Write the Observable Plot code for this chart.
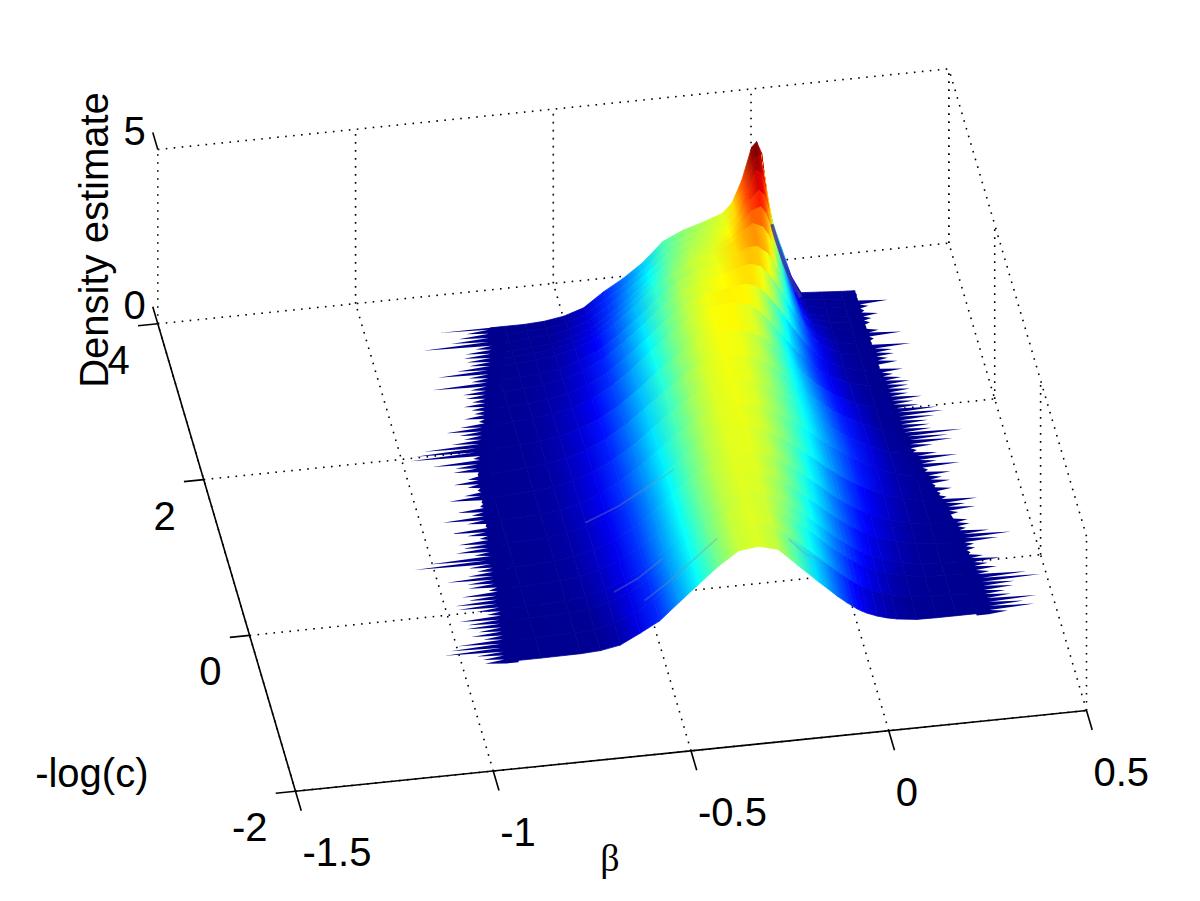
<!DOCTYPE html>
<html>
<head>
<meta charset="utf-8">
<style>html,body{margin:0;padding:0;background:#fff}svg{display:block}</style>
<script src="https://cdn.jsdelivr.net/npm/d3@7"></script>
<script src="https://cdn.jsdelivr.net/npm/@observablehq/plot@0.6"></script>
</head>
<body>
<div id="chart"></div>
<script>
// Tick values
const betaTicks = [-1.5, -1, -0.5, 0, 0.5];
const betaTickLabels = ["-1.5", "-1", "-0.5", "0", "0.5"];
const logCTicks = [-2, 0, 2, 4];
const densityTicks = [0, 5];

// Values of beta at which each profile was read
const betaGrid = [-0.95,-0.8,-0.7,-0.65,-0.6,-0.55,-0.5,-0.45,-0.4,-0.35,-0.3,-0.25,-0.2,-0.15,-0.1,-0.075,-0.05,-0.025,-0.0125,0,0.0125,0.025,0.05,0.075,0.1,0.15,0.2,0.25,0.3,0.35];

// -log(c) of each profile (front to back), and the beta range the solid surface spans there
const logCRows = [-0.66,-0.4,-0.15,0,0.25,0.5,0.8,1.1,1.4,1.7,2,2.3,2.5,2.7,2.85,3.03,3.12,3.2,3.32,3.42,3.52];
const rowBetaMin = [-0.887,-0.875,-0.866,-0.86,-0.855,-0.85,-0.843,-0.835,-0.828,-0.82,-0.795,-0.77,-0.755,-0.74,-0.727,-0.71,-0.702,-0.695,-0.69,-0.688,-0.685];
const rowBetaMax = [0.33,0.33,0.328,0.325,0.32,0.315,0.297,0.28,0.262,0.245,0.242,0.24,0.239,0.238,0.237,0.236,0.235,0.235,0.235,0.235,0.235];

// Density profiles
const densityA = [0,0,0.01,0.04,0.14,0.42,0.72,1.2,1.67,2.13,2.5,2.57,2.42,1.9,1.39,1.15,0.9,0.68,0.58,0.48,0.4,0.33,0.22,0.14,0.08,0.01,0,0,0,0];
const densityB = [0,0,0.02,0.05,0.18,0.42,0.72,1.2,1.68,2.15,2.52,2.63,2.52,2.1,1.62,1.38,1.14,0.91,0.8,0.7,0.6,0.52,0.38,0.28,0.19,0.08,0.03,0.01,0,0];
const densityB2 = [0,0,0.03,0.08,0.22,0.44,0.74,1.19,1.67,2.13,2.47,2.6,2.53,2.2,1.76,1.52,1.27,1.04,0.93,0.83,0.73,0.64,0.48,0.36,0.25,0.12,0.04,0.01,0,0];
const densityC = [0,0,0.05,0.12,0.25,0.46,0.77,1.2,1.67,2.12,2.45,2.6,2.55,2.28,1.86,1.62,1.38,1.15,1.03,0.94,0.83,0.74,0.56,0.43,0.31,0.16,0.06,0.02,0,0];
const densityC2 = [0,0.01,0.06,0.13,0.27,0.47,0.78,1.2,1.68,2.14,2.47,2.63,2.6,2.35,1.96,1.73,1.5,1.27,1.16,1.05,0.95,0.85,0.67,0.52,0.39,0.21,0.09,0.03,0.01,0];
const densityD = [0,0.01,0.07,0.14,0.28,0.48,0.79,1.18,1.65,2.09,2.44,2.61,2.62,2.44,2.07,1.86,1.63,1.41,1.3,1.17,1.07,0.97,0.78,0.62,0.47,0.26,0.12,0.05,0.02,0];
const densityD2 = [0,0.02,0.08,0.15,0.28,0.49,0.78,1.16,1.61,2.05,2.41,2.63,2.66,2.52,2.18,1.98,1.76,1.55,1.44,1.32,1.21,1.11,0.91,0.74,0.58,0.33,0.15,0.05,0.02,0];
const densityE = [0,0.02,0.08,0.15,0.28,0.49,0.78,1.15,1.58,2.01,2.37,2.6,2.67,2.57,2.28,2.1,1.9,1.7,1.58,1.47,1.35,1.25,1.05,0.87,0.69,0.4,0.18,0.06,0.02,0];
const densityE2 = [0,0.01,0.07,0.13,0.25,0.44,0.72,1.07,1.5,1.94,2.33,2.6,2.7,2.62,2.32,2.14,1.94,1.72,1.6,1.49,1.37,1.26,1.04,0.85,0.67,0.38,0.14,0.04,0.01,0];
const densityF = [0,0.01,0.06,0.12,0.23,0.4,0.66,1,1.43,1.86,2.26,2.56,2.7,2.65,2.4,2.2,1.98,1.74,1.6,1.49,1.36,1.25,1.02,0.8,0.63,0.34,0.1,0.03,0,0];
const densityF2 = [0,0.01,0.05,0.1,0.19,0.33,0.56,0.88,1.3,1.76,2.18,2.52,2.72,2.72,2.52,2.33,2.08,1.79,1.63,1.49,1.33,1.2,0.94,0.72,0.54,0.26,0.07,0.02,0,0];
const densityG = [0,0,0.04,0.09,0.16,0.27,0.47,0.78,1.19,1.67,2.12,2.5,2.72,2.82,2.7,2.48,2.16,1.82,1.64,1.48,1.3,1.16,0.86,0.63,0.44,0.17,0.05,0.01,0,0];
const densityG2 = [0,0,0.03,0.07,0.13,0.23,0.42,0.72,1.12,1.58,2.05,2.45,2.67,2.78,2.85,2.78,2.55,2.2,2,1.8,1.58,1.38,1,0.68,0.45,0.15,0.04,0.01,0,0];
const densityH = [0,0,0.02,0.05,0.1,0.2,0.38,0.66,1.05,1.5,1.98,2.4,2.6,2.72,2.9,2.95,2.85,2.55,2.36,2.12,1.85,1.6,1.12,0.74,0.46,0.14,0.03,0,0,0];
const densityH2 = [0,0,0.01,0.04,0.08,0.17,0.33,0.58,0.96,1.41,1.9,2.32,2.55,2.67,2.92,3.08,3.1,2.88,2.68,2.4,2.05,1.72,1.13,0.68,0.38,0.11,0.02,0,0,0];
const densityI = [0,0,0.01,0.03,0.07,0.14,0.28,0.5,0.88,1.32,1.8,2.22,2.5,2.62,2.88,3.15,3.35,3.22,3,2.7,2.25,1.85,1.15,0.62,0.3,0.08,0.02,0,0,0];
const densityI2 = [0,0,0,0.02,0.06,0.12,0.25,0.46,0.84,1.27,1.74,2.17,2.45,2.58,2.82,3.1,3.5,3.6,3.4,3,2.48,1.95,1.15,0.58,0.25,0.07,0.02,0,0,0];
const densityJ = [0,0,0,0.02,0.05,0.1,0.22,0.42,0.8,1.22,1.68,2.12,2.4,2.55,2.75,3.05,3.6,3.9,3.75,3.3,2.7,2.05,1.15,0.55,0.2,0.07,0.02,0,0,0];
const densityK = [0,0,0,0,0.04,0.07,0.18,0.38,0.75,1.15,1.58,2.05,2.33,2.5,2.68,2.95,3.55,4.2,4.1,3.6,2.85,2.15,1.2,0.55,0.15,0.06,0.02,0,0,0];
const densityL = [0,0,0,0,0.03,0.05,0.15,0.34,0.72,1.08,1.5,2,2.28,2.45,2.63,2.9,3.5,4.3,4.38,3.9,2.95,2.2,1.3,0.58,0.12,0.06,0.02,0,0,0];
const densityM = [0,0,0,0,0,0.03,0.12,0.3,0.7,1.03,1.43,1.97,2.23,2.4,2.6,2.87,3.5,4.42,4.56,4.22,3.1,2.3,1.45,0.6,0.1,0.06,0.02,0,0,0];
const densityRows = [densityA,densityB,densityB2,densityC,densityC2,densityD,densityD2,densityE,densityE2,densityF,densityF2,densityG,densityG2,densityH,densityH2,densityI,densityI2,densityJ,densityK,densityL,densityM];

// How far (hundredths of beta) single profiles reach past the solid edge, back to front
const leftReach = [13,6.3,8.4,10.5,17.7,4.6,7.2,7.6,6.7,5.9,8.9,13.5,5.5,4.6,14.3,4.6,6.3,5.5,3.8,5.9,3.8,3,5.5,1.7,6.3,9.7,6.3,5,8,14.8,16.9,18,2,12.2,6.3,6.7,0.4,3,6.7,3.4,
  1,4.5,8.5,0.5,1,7,3.5,11,5,0.5,9.5,5.5,2.5,8,7,9,4.5,16,20,6.5,4.5,7,12.5,7.5,7.5,2.5,9.5,8,11.5,11,6.5,4,11,9,9.5,6.5,8.5,5.5,12,14,15.5,7.5,6,5.5];
const rightReach = [0.2,0.3,0.2,7.5,2.3,1,4.2,2.2,1.5,0.2,3,8.5,1.1,0.3,9.8,4.8,4.9,3,5.1,0.3,5.8,3,4.8,6.6,5.9,6,5.2,8.3,5.9,6.9,11.2,12.4,9.8,7.8,7.9,8,15.3,11.2,11.7,6,1.4,
  6,10.5,4.6,9.9,1.2,6.3,3.5,5,0.7,4.2,0.8,1.7,8.9,5.2,7.2,2.3,0,3.4,3.4,2.1,7.6,12.6,9,2.5,2.4,0.8,3.6,7.6,4,5.9,3.6,12.6,15.8,8.9,8.3,5.9,7,13.2,9.6,12,5];

// Thin grey creases on the surface: [beta, -log(c), density]
const creaseA = [[-0.52,-0.35,0.66],[-0.46,-0.35,1.12],[-0.4,-0.35,1.66],[-0.34,-0.35,2.2]];
const creaseB = [[-0.6,0.85,0.3],[-0.52,0.85,0.66],[-0.45,0.85,1.1],[-0.38,0.85,1.55]];
const creaseC = [[-0.16,-0.43,2.16],[-0.12,-0.43,1.7],[-0.08,-0.43,1.45]];
const creaseD = [[-0.58,-0.05,0.3],[-0.52,-0.05,0.62],[-0.46,-0.05,1.1]];
const creases = [creaseA, creaseB, creaseC, creaseD];
// Dark fold along the back slope of the peak
const foldLine = [[0.02,3.42,2.35],[0.03,3.42,1.95],[0.05,3.42,1.25],[0.07,3.42,0.68],[0.09,3.42,0.26]];

// Orthographic view of the axes box
const view = ([b, t, z]) => [
  295 + 395.5 * (b + 1.5) - 22.95 * (t + 2),
  790.7 - 40.35 * (b + 1.5) - 77.9 * (t + 2) - 34.86 * z
];

const jet = Plot.scale({color: {
  type: "linear",
  domain: [0, 0.1, 0.55, 1.65, 2.75, 3.85, 4.4],
  range: ["#00008f", "#00009c", "#0000ff", "#00ffff", "#ffff00", "#ff0000", "#800000"],
  interpolate: "rgb",
  clamp: true
}});

const clamp = (v, lo, hi) => Math.max(lo, Math.min(hi, v));

// Surface facets, painted back to front; each is filled with a gradient across beta
const facets = [];
for (let r = logCRows.length - 2; r >= 0; --r) {
  const at = (i, row) => view([clamp(betaGrid[i], rowBetaMin[row], rowBetaMax[row]), logCRows[row], densityRows[row][i]]);
  for (let i = 0; i < betaGrid.length - 1; ++i) {
    const bl = at(i, r + 1), br = at(i + 1, r + 1), fl = at(i, r), fr = at(i + 1, r);
    if (Math.abs(br[0] - bl[0]) + Math.abs(fr[0] - fl[0]) < 0.01) continue;
    // colour runs across the facet, at right angles to its sides
    const sx = (fl[0] + fr[0] - bl[0] - br[0]) / 2, sy = (fl[1] + fr[1] - bl[1] - br[1]) / 2;
    const sl = Math.hypot(sx, sy) || 1;
    const nx = sy / sl, ny = -sx / sl;
    const lx = (bl[0] + fl[0]) / 2, ly = (bl[1] + fl[1]) / 2;
    const rx = (br[0] + fr[0]) / 2, ry = (br[1] + fr[1]) / 2;
    const w = (rx - lx) * nx + (ry - ly) * ny;
    facets.push({
      id: `f${r}_${i}`,
      points: [{x1: bl[0], y1: bl[1], x2: fl[0], y2: fl[1]}, {x1: br[0], y1: br[1], x2: fr[0], y2: fr[1]}],
      g: [lx, ly, lx + nx * w, ly + ny * w],
      c0: jet.apply((densityRows[r][i] + densityRows[r + 1][i]) / 2),
      c1: jet.apply((densityRows[r][i + 1] + densityRows[r + 1][i + 1]) / 2)
    });
  }
}

const inner = 0.03;
const edgeMin = d3.scaleLinear(logCRows, rowBetaMin);
const edgeMax = d3.scaleLinear(logCRows, rowBetaMax);
const tBack = logCRows[logCRows.length - 1], tFront = logCRows[0];
// each reading is one thin sliver; the outline falls back towards the solid edge between readings
const fringe = (reach, edge, sign) => reach.flatMap((v, i) => {
  const step = (tFront - tBack) / (reach.length - 1);
  const t = tBack + step * i;
  const next = i + 1 < reach.length ? reach[i + 1] : 0;
  const point = (bt, rv) => {
    const tip = view([edge(bt) + sign * rv / 100, bt, 0]);
    const base = view([edge(bt) - sign * inner, bt, 0]);
    return {x1: tip[0], y1: tip[1], x2: base[0], y2: base[1]};
  };
  return [point(t, v), point(t + step * 0.45, Math.min(v, next) * 0.1)];
});

const seg = (a, b) => { const p = view(a), q = view(b); return {x1: p[0], y1: p[1], x2: q[0], y2: q[1]}; };

const dotted = [
  ...betaTicks.map(b => seg([b, -2, 0], [b, 4, 0])),
  ...logCTicks.map(t => seg([-1.5, t, 0], [0.5, t, 0])),
  ...betaTicks.map(b => seg([b, 4, 0], [b, 4, 5])),
  seg([-1.5, 4, 5], [0.5, 4, 5]),
  ...logCTicks.map(t => seg([0.5, t, 0], [0.5, t, 5])),
  seg([0.5, -2, 5], [0.5, 4, 5])
];
const solid = [
  seg([-1.5, -2, 0], [0.5, -2, 0]),
  seg([-1.5, -2, 0], [-1.5, 4, 0]),
  ...betaTicks.map(b => seg([b, -2, 0], [b, -2.25, 0])),
  ...logCTicks.map(t => seg([-1.5, t, 0], [-1.55, t, 0])),
  ...densityTicks.map(z => seg([-1.5, 4, z], [-1.5, 4.22, z]))
];

const labelAt = (p, text) => { const q = view(p); return {x: q[0], y: q[1], text}; };
const font = {fontFamily: "Liberation Sans", fontSize: 40, fill: "#000", lineAnchor: "bottom"};

const plot = Plot.plot({
  width: 1200,
  height: 901,
  margin: 0,
  x: {domain: [0, 1200], range: [0, 1200], axis: null},
  y: {domain: [0, 901], range: [0, 901], axis: null},
  style: {background: "#fff"},
  marks: [
    Plot.link(dotted, {x1: "x1", y1: "y1", x2: "x2", y2: "y2", stroke: "#000", strokeWidth: 1.6, strokeDasharray: "1.6 6.4"}),
    Plot.area(fringe(leftReach, edgeMin, -1), {x1: "x1", y1: "y1", x2: "x2", y2: "y2", fill: "#00008f"}),
    Plot.area(fringe(rightReach, edgeMax, 1), {x1: "x1", y1: "y1", x2: "x2", y2: "y2", fill: "#00008f"}),
    ...facets.map(({id, points}) => Plot.area(points, {x1: "x1", y1: "y1", x2: "x2", y2: "y2", fill: `url(#${id})`, stroke: `url(#${id})`, strokeWidth: 0.8})),
    ...creases.map(c => Plot.line(c.map(view), {x: d => d[0], y: d => d[1], stroke: "#7f93a8", strokeOpacity: 0.35, strokeWidth: 1.8})),
    Plot.line(foldLine.map(view), {x: d => d[0], y: d => d[1], stroke: "#3d2c9c", strokeOpacity: 0.8, strokeWidth: 3.5}),
    Plot.link(solid, {x1: "x1", y1: "y1", x2: "x2", y2: "y2", stroke: "#000", strokeWidth: 1.6}),
    Plot.text(betaTicks.map((b, i) => labelAt([b, -2, 0], betaTickLabels[i])), {x: "x", y: "y", text: "text", ...font, textAnchor: "start", dx: 7, dy: 75}),
    Plot.text(logCTicks.map(t => labelAt([-1.5, t, 0], String(t))), {x: "x", y: "y", text: "text", ...font, textAnchor: "end", dx: -28, dy: 50}),
    Plot.text(densityTicks.map(z => labelAt([-1.5, 4, z], String(z))), {x: "x", y: "y", text: "text", ...font, textAnchor: "end", dx: -12, dy: -5}),
    Plot.text([labelAt([-1.5, -2, 0], "-log(c)")], {x: "x", y: "y", text: "text", ...font, textAnchor: "end", dx: -147, dy: -4}),
    Plot.text([labelAt([-0.5, -2, 0], "β")], {x: "x", y: "y", text: "text", ...font, fontFamily: "Liberation Serif", fontSize: 38, textAnchor: "middle", dx: -81, dy: 120}),
    Plot.text([labelAt([-1.5, 4, 0], "Density estimate")], {x: "x", y: "y", text: "text", ...font, textAnchor: "start", rotate: -90, dx: -50, dy: 64})
  ]
});

// Gradient definitions for the surface facets
const ns = "http://www.w3.org/2000/svg";
const defs = document.createElementNS(ns, "defs");
for (const {id, g: v, c0, c1} of facets) {
  const g = document.createElementNS(ns, "linearGradient");
  g.setAttribute("id", id);
  g.setAttribute("gradientUnits", "userSpaceOnUse");
  g.setAttribute("x1", v[0]); g.setAttribute("y1", v[1]);
  g.setAttribute("x2", v[2]); g.setAttribute("y2", v[3]);
  for (const [offset, color] of [[0, c0], [1, c1]]) {
    const s = document.createElementNS(ns, "stop");
    s.setAttribute("offset", offset);
    s.setAttribute("stop-color", color);
    g.appendChild(s);
  }
  defs.appendChild(g);
}
plot.insertBefore(defs, plot.firstChild);
document.getElementById("chart").appendChild(plot);
</script>
</body>
</html>
